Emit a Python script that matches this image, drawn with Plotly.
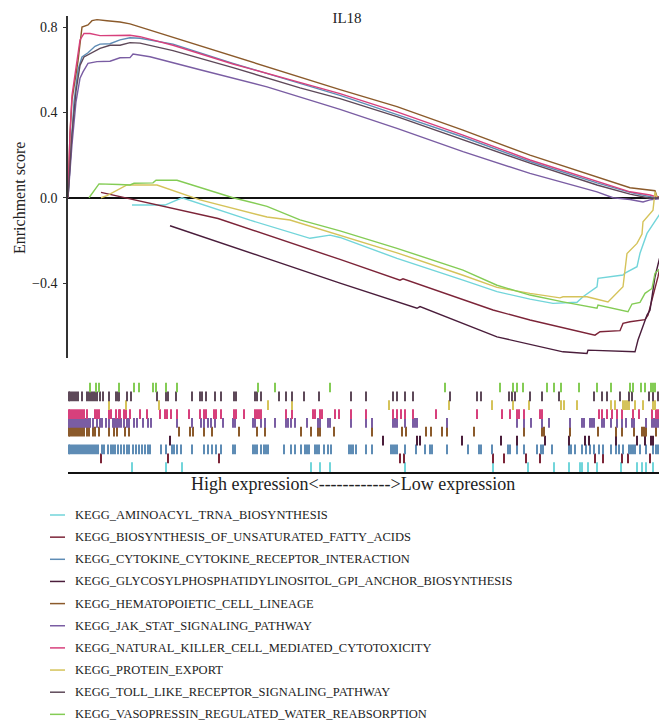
import plotly.graph_objects as go

N_GENES = 17970

pathways = [
    "KEGG_AMINOACYL_TRNA_BIOSYNTHESIS",
    "KEGG_BIOSYNTHESIS_OF_UNSATURATED_FATTY_ACIDS",
    "KEGG_CYTOKINE_CYTOKINE_RECEPTOR_INTERACTION",
    "KEGG_GLYCOSYLPHOSPHATIDYLINOSITOL_GPI_ANCHOR_BIOSYNTHESIS",
    "KEGG_HEMATOPOIETIC_CELL_LINEAGE",
    "KEGG_JAK_STAT_SIGNALING_PATHWAY",
    "KEGG_NATURAL_KILLER_CELL_MEDIATED_CYTOTOXICITY",
    "KEGG_PROTEIN_EXPORT",
    "KEGG_TOLL_LIKE_RECEPTOR_SIGNALING_PATHWAY",
    "KEGG_VASOPRESSIN_REGULATED_WATER_REABSORPTION",
]
colors = ["#72D5DA", "#7C2438", "#5E8CB5", "#4A1D3B", "#8B5A2B",
          "#7A5DA3", "#D7407C", "#D5C35A", "#5E4959", "#84CC55"]

y_tick_vals = [-0.4, 0.0, 0.4, 0.8]
y_tick_text = ["\u22120.4", "0.0", "0.4", "0.8"]

# ---- running enrichment score curves (gene rank, ES) ----
rank_aminoacyl = [1920, 2910, 3420, 5460, 7260, 7860, 8160, 9870, 11850, 12870, 13860, 14550,
                  15270, 15450, 15870, 15900, 16650, 16710, 17070, 17160, 17370, 17700, 17970]
es_aminoacyl = [-0.034, -0.034, 0.0, -0.105, -0.19, -0.175, -0.186, -0.284, -0.386, -0.44, -0.475, -0.495,
                -0.49, -0.464, -0.417, -0.378, -0.362, -0.353, -0.323, -0.26, -0.167, -0.089, -0.026]

rank_fatty = [990, 4500, 8160, 9960, 10050, 12750, 13860, 15810, 15960, 16560, 16650, 16860,
              17310, 17400, 17700, 17850, 17970]
es_fatty = [0.025, -0.097, -0.289, -0.386, -0.38, -0.526, -0.573, -0.644, -0.628, -0.623, -0.589, -0.581,
            -0.571, -0.55, -0.37, -0.26, -0.167]

rank_cytokine = [0, 90, 180, 300, 420, 600, 810, 960, 1260, 1560, 1860, 2160, 3150, 4950, 6960,
                 8160, 9870, 11850, 13860, 15870, 16860, 17310, 17610, 17970]
es_cytokine = [0, 0.2, 0.45, 0.6, 0.66, 0.68, 0.71, 0.72, 0.722, 0.74, 0.75, 0.748, 0.72, 0.63, 0.535,
               0.48, 0.39, 0.285, 0.17, 0.07, 0.025, 0.01, 0.0, 0.01]

rank_gpi = [3060, 8160, 10470, 10560, 12870, 14850, 15570, 15600, 17010, 17100, 17370, 17460,
            17610, 17820, 17910, 17970]
es_gpi = [-0.131, -0.4, -0.518, -0.51, -0.652, -0.722, -0.73, -0.714, -0.722, -0.667, -0.55, -0.527,
          -0.37, -0.237, -0.198, -0.18]

rank_hema = [0, 60, 120, 210, 300, 420, 600, 720, 870, 1170, 1560, 1860, 3150, 4950, 6960, 8160,
             9870, 11850, 13860, 15870, 16860, 17610, 17670, 17970]
es_hema = [0, 0.3, 0.46, 0.55, 0.64, 0.8, 0.81, 0.83, 0.835, 0.83, 0.824, 0.815, 0.752, 0.663, 0.565,
           0.507, 0.427, 0.317, 0.2, 0.098, 0.047, 0.033, 0.005, 0.0]

rank_jak = [0, 120, 240, 360, 450, 600, 870, 1260, 1560, 1860, 1950, 2460, 3960, 5970, 8160, 9870,
            11850, 13860, 15870, 16350, 16860, 17250, 17460, 17850, 17970]
es_jak = [0, 0.25, 0.45, 0.56, 0.59, 0.63, 0.638, 0.64, 0.656, 0.657, 0.674, 0.661, 0.6, 0.52, 0.414,
          0.325, 0.216, 0.114, 0.028, 0.0, -0.008, -0.02, -0.01, 0.0, 0.0]

rank_nk = [0, 60, 120, 240, 360, 480, 660, 960, 1560, 1860, 2160, 3150, 4950, 6960, 8160, 9870,
           11850, 13860, 15870, 16860, 17460, 17760, 17970]
es_nk = [0, 0.3, 0.48, 0.62, 0.74, 0.77, 0.77, 0.76, 0.76, 0.762, 0.755, 0.715, 0.627, 0.539, 0.488,
         0.403, 0.294, 0.177, 0.075, 0.028, 0.013, 0.0, 0.005]

rank_protein = [990, 1170, 1770, 2670, 3960, 5970, 6660, 8160, 9870, 11850, 12870, 13860, 14760,
                14850, 15570, 16200, 16650, 16770, 17070, 17220, 17250, 17550, 17610, 17670]
es_protein = [0.0, 0.01, 0.06, 0.06, -0.01, -0.09, -0.104, -0.175, -0.258, -0.363, -0.42, -0.448, -0.469,
              -0.464, -0.464, -0.488, -0.417, -0.261, -0.214, -0.17, -0.112, -0.058, 0.028, 0.0]

rank_toll = [0, 120, 240, 360, 480, 660, 960, 1260, 1560, 1860, 2160, 3150, 4950, 6960, 8160, 9870,
             11850, 13860, 15870, 16860, 17460, 17760, 17970]
es_toll = [0, 0.3, 0.5, 0.62, 0.66, 0.675, 0.7, 0.715, 0.715, 0.727, 0.725, 0.69, 0.61, 0.515, 0.465,
           0.38, 0.27, 0.162, 0.06, 0.017, -0.002, 0.0, 0.005]

rank_vaso = [630, 720, 810, 930, 1530, 1860, 1980, 2130, 2550, 2640, 3270, 4950, 5970, 6960, 8160,
             9870, 11850, 12870, 13860, 14850, 15870, 15900, 16800, 16920, 17160, 17310, 17520,
             17610, 17820, 17970]
es_vaso = [0.0, 0.02, 0.04, 0.065, 0.062, 0.06, 0.068, 0.068, 0.07, 0.082, 0.082, 0.0, -0.04, -0.104,
           -0.155, -0.237, -0.339, -0.41, -0.456, -0.488, -0.518, -0.503, -0.534, -0.498, -0.49,
           -0.448, -0.425, -0.354, -0.323, -0.27]

# ---- gene-set member positions in the ranked list ----
hits_aminoacyl = [1920, 2940, 3420, 7290, 7560, 7860, 10110, 12750, 13800, 14580, 15030, 15360,
                  15420, 15600, 15870, 16590, 17070, 17220, 17340, 17550]
hits_fatty = [990, 3000, 4530, 9960, 10080, 12750, 13080, 13740, 14160, 15810, 16050, 16620, 16800,
              17460, 17760, 17880]
hits_cytokine = [30, 60, 120, 180, 240, 300, 360, 420, 480, 540, 600, 660, 720, 780, 840, 900, 1020,
                 1080, 1200, 1290, 1350, 1410, 1500, 1590, 1680, 1770, 1830, 1950, 2040, 2130, 2220,
                 2310, 2400, 2460, 2790, 2940, 3120, 3180, 3270, 3390, 3720, 4080, 4200, 4320, 4440,
                 4590, 4950, 5010, 5550, 5610, 5670, 5790, 5880, 5940, 6000, 6480, 6690, 6810, 6990,
                 7110, 7170, 7230, 7410, 7470, 7530, 7680, 7800, 7890, 8430, 8490, 8550, 8640, 8940,
                 9120, 9690, 9750, 9810, 9870, 10110, 10440, 10710, 10860, 10920, 11370, 12000, 12330,
                 12390, 12720, 13200, 13260, 13470, 13680, 14070, 14190, 14250, 14520, 15030, 15090,
                 15210, 15420, 15540, 15660, 15780, 15930, 16050, 16290, 16440, 16530, 16650, 16830,
                 16890, 16950, 17010, 17160, 17340, 17550, 17640, 17700, 17760, 17880]
hits_gpi = [3060, 9450, 10470, 10560, 11820, 12990, 13470, 14310, 15030, 15510, 15630, 16440, 17070,
            17310, 17490, 17550, 17850]
hits_hema = [30, 60, 120, 180, 240, 300, 360, 420, 480, 570, 630, 750, 810, 930, 1230, 1380, 1470,
             1710, 1830, 3330, 3660, 3750, 4080, 4320, 5130, 5670, 5910, 6990, 7290, 7500, 7560, 7980,
             9120, 10020, 10140, 10740, 10890, 11220, 11370, 12180, 13680, 14220, 14280, 15060, 15900,
             16440, 16620, 16980, 17220, 17280, 17340, 17640, 17820]
hits_jak = [30, 60, 120, 180, 240, 300, 360, 420, 480, 540, 600, 660, 750, 870, 960, 1020, 1140, 1230,
            1350, 1410, 1470, 1530, 1590, 1680, 1770, 1830, 1980, 2070, 2250, 2400, 2490, 3270, 3720,
            3990, 4080, 4200, 4290, 4410, 4650, 4950, 5010, 5550, 5610, 5790, 5910, 6210, 6540, 6600,
            6690, 6810, 7170, 7500, 7560, 7800, 7860, 8490, 8940, 9120, 9750, 9810, 9870, 10110, 10350,
            10410, 10470, 11370, 13470, 13680, 13890, 14220, 14430, 15060, 15420, 15480, 15660, 15720,
            15780, 16020, 16080, 16290, 16470, 16620, 16740, 16920, 16980, 17340, 17520, 17580, 17640,
            17700, 17850]
hits_nk = [30, 60, 120, 180, 240, 300, 360, 420, 480, 570, 810, 870, 930, 1230, 1290, 1440, 1530, 1560,
           1680, 1740, 1860, 2160, 2370, 2760, 2910, 2970, 3090, 3270, 3630, 3960, 4080, 4140, 4380,
           4440, 4590, 4980, 5040, 5280, 5610, 5670, 5730, 5790, 6540, 6720, 7350, 7410, 7560, 7620,
           8010, 8130, 8490, 8940, 9750, 9870, 9990, 10110, 10350, 11040, 12270, 13020, 13260, 13470,
           13530, 13680, 14160, 14220, 15930, 16020, 16170, 16320, 16470, 16620, 16950, 17130, 17520,
           17640, 17700, 17760, 17820, 17880]
hits_protein = [1230, 1740, 2730, 6000, 6720, 9630, 11430, 12720, 13350, 13830, 14790, 14880, 15270,
                16290, 16410, 16650, 16710, 16770, 16830, 17010, 17250, 17550, 17610]
hits_toll = [30, 60, 120, 180, 240, 300, 420, 570, 630, 690, 750, 810, 870, 960, 1050, 1230, 1440, 1500,
             1530, 1770, 1890, 2670, 2940, 3000, 3240, 3720, 3960, 4020, 4140, 4410, 4590, 4980, 5040,
             5610, 5670, 5790, 6330, 6540, 6720, 7080, 7530, 8490, 8940, 9750, 9870, 10110, 10350,
             11460, 12270, 12390, 13230, 13320, 13410, 13860, 14220, 14730, 15780, 16020, 16170, 16560,
             16830, 16920, 17430, 17550, 17700, 17850]
hits_vaso = [660, 840, 930, 1530, 1980, 2130, 2550, 2640, 2940, 3270, 5700, 6210, 7860, 11310, 12960,
             13350, 13470, 13650, 14370, 14580, 14790, 15330, 15870, 16290, 16860, 16950, 17190, 17310,
             17490, 17550, 17610, 17820, 17880]

curve_ranks = [rank_aminoacyl, rank_fatty, rank_cytokine, rank_gpi, rank_hema,
               rank_jak, rank_nk, rank_protein, rank_toll, rank_vaso]
curve_es = [es_aminoacyl, es_fatty, es_cytokine, es_gpi, es_hema,
            es_jak, es_nk, es_protein, es_toll, es_vaso]
hit_sets = [hits_aminoacyl, hits_fatty, hits_cytokine, hits_gpi, hits_hema,
            hits_jak, hits_nk, hits_protein, hits_toll, hits_vaso]

FONT = "Liberation Serif, Times New Roman, serif"
TXT = "#222222"

# figure geometry (the page adds an 8px body margin)
FIG_W, FIG_H = 659, 716
M_L, M_R, M_T, M_B = 60, 0, 8, 252
PLOT_W = FIG_W - M_L - M_R
PLOT_H = FIG_H - M_T - M_B
PLOT_BOTTOM = FIG_H - M_B


def px_x(px):
    return (px - M_L) / PLOT_W


def px_y(py):
    return (PLOT_BOTTOM - py) / PLOT_H


fig = go.Figure()

# running ES lines
for i, name in enumerate(pathways):
    fig.add_trace(go.Scatter(
        x=curve_ranks[i], y=curve_es[i], mode="lines", name=name, showlegend=False,
        line=dict(color=colors[i], width=1.4), xaxis="x", yaxis="y", hoverinfo="skip"))

# hit rug, one row per gene set (first pathway on the bottom row)
ROW_H = 1.1
for i, name in enumerate(pathways):
    xs, ys = [], []
    for r in hit_sets[i]:
        xs += [r, r, None]
        ys += [i, i + ROW_H, None]
    fig.add_trace(go.Scatter(
        x=xs, y=ys, mode="lines", showlegend=False, name=name,
        line=dict(color=colors[i], width=2), xaxis="x2", yaxis="y2", hoverinfo="skip"))

# legend (drawn below the panels)
annotations = [
    dict(text="Enrichment score", textangle=-90, xref="paper", yref="paper",
         x=px_x(11), y=px_y(190), xanchor="center", yanchor="middle",
         showarrow=False, font=dict(size=16, family=FONT, color=TXT)),
    dict(text="High expression&lt;------------&gt;Low expression", xref="paper", yref="paper",
         x=px_x(345), y=px_y(476), xanchor="center", yanchor="middle",
         showarrow=False, font=dict(size=18, family=FONT, color=TXT)),
]
shapes = []
LEG_Y0, LEG_DY = 507, 22.15
for i, name in enumerate(pathways):
    yc = px_y(LEG_Y0 + LEG_DY * i)
    shapes.append(dict(type="line", xref="paper", yref="paper",
                       x0=px_x(42), x1=px_x(57), y0=yc, y1=yc,
                       line=dict(color=colors[i], width=1.5)))
    annotations.append(dict(text=name, xref="paper", yref="paper", x=px_x(65), y=yc,
                            xanchor="left", yanchor="middle", showarrow=False,
                            font=dict(size=12.5, family=FONT, color=TXT)))

fig.update_layout(
    width=FIG_W, height=FIG_H,
    margin=dict(l=M_L, r=M_R, t=M_T, b=M_B, autoexpand=False),
    paper_bgcolor="white", plot_bgcolor="white",
    font=dict(family=FONT, color=TXT),
    title=dict(text="IL18", x=339 / FIG_W, xanchor="center", y=1 - 10 / FIG_H, yanchor="middle",
               yref="container", font=dict(size=15, family=FONT, color=TXT)),
    xaxis=dict(domain=[0, 1], range=[0, N_GENES], visible=False, anchor="y"),
    yaxis=dict(domain=[0.25, 1], range=[-0.751, 0.852], anchor="x",
               tickvals=y_tick_vals, ticktext=y_tick_text,
               showline=True, linecolor="#333333", linewidth=1.5,
               ticks="outside", ticklen=3, tickcolor="#333333", tickwidth=1,
               ticklabelstandoff=3,
               showgrid=False, zeroline=True, zerolinecolor="#111111", zerolinewidth=1.5,
               tickfont=dict(size=14, family=FONT, color=TXT)),
    xaxis2=dict(domain=[0, 1], range=[0, N_GENES], anchor="y2",
                showline=True, linecolor="#111111", linewidth=2,
                showticklabels=False, ticks="", showgrid=False, zeroline=False),
    yaxis2=dict(domain=[0, 0.196], range=[0, 10.1], anchor="x2", visible=False),
    showlegend=False,
    annotations=annotations,
    shapes=shapes,
)

fig.write_html("out.html")
